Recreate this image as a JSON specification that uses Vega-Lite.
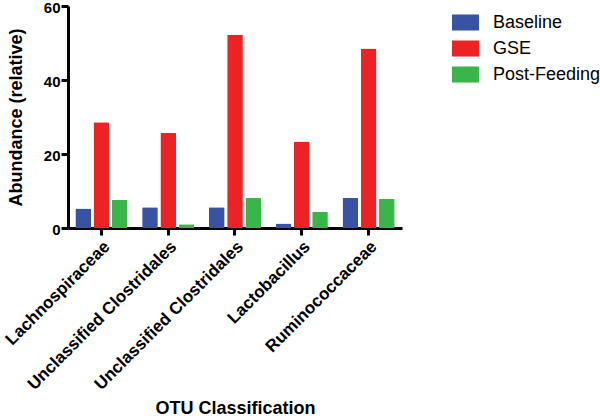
{
  "$schema": "https://vega.github.io/schema/vega-lite/v6.json",
  "width": 334,
  "height": 222,
  "autosize": "none",
  "padding": {"left": 68, "top": 6, "right": 198, "bottom": 191},
  "background": "white",
  "config": {
    "font": "Liberation Sans",
    "view": {"stroke": null},
    "axis": {"grid": false, "domainColor": "black", "domainWidth": 3, "tickColor": "black", "tickWidth": 3, "tickSize": 7, "labelColor": "black", "titleColor": "black", "labelFont": "Liberation Sans", "titleFont": "Liberation Sans", "labelFontWeight": "bold", "titleFontWeight": "bold"}
  },
  "data": {
    "values": [
      {"otu": "Lachnospiraceae", "group": "Baseline", "value": 5.3},
      {"otu": "Lachnospiraceae", "group": "GSE", "value": 28.6},
      {"otu": "Lachnospiraceae", "group": "Post-Feeding", "value": 7.6},
      {"otu": "Unclassified Clostridales", "group": "Baseline", "value": 5.6},
      {"otu": "Unclassified Clostridales", "group": "GSE", "value": 25.7},
      {"otu": "Unclassified Clostridales", "group": "Post-Feeding", "value": 1.0},
      {"otu": "Unclassified Clostridales ", "group": "Baseline", "value": 5.6},
      {"otu": "Unclassified Clostridales ", "group": "GSE", "value": 52.2},
      {"otu": "Unclassified Clostridales ", "group": "Post-Feeding", "value": 8.1},
      {"otu": "Lactobacillus", "group": "Baseline", "value": 1.2},
      {"otu": "Lactobacillus", "group": "GSE", "value": 23.4},
      {"otu": "Lactobacillus", "group": "Post-Feeding", "value": 4.3},
      {"otu": "Ruminococcaceae", "group": "Baseline", "value": 8.1},
      {"otu": "Ruminococcaceae", "group": "GSE", "value": 48.5},
      {"otu": "Ruminococcaceae", "group": "Post-Feeding", "value": 7.9}
    ]
  },
  "mark": {"type": "bar", "cornerRadius": 1},
  "encoding": {
    "x": {
      "field": "otu", "type": "nominal", "sort": null,
      "scale": {"paddingInner": 0.22, "paddingOuter": 0.11},
      "axis": {"title": "OTU Classification", "titleFontSize": 18, "titlePadding": 7, "labelAngle": -45, "labelFontSize": 17, "labelPadding": 3, "labelLimit": 0}
    },
    "xOffset": {"field": "group", "type": "nominal", "scale": {"paddingInner": 0.14}},
    "y": {
      "field": "value", "type": "quantitative",
      "scale": {"domain": [0, 60], "nice": false},
      "axis": {"title": "Abundance (relative)", "titleFontSize": 18, "labelFontSize": 15, "labelOffset": 1.5, "values": [0, 20, 40, 60], "titlePadding": 18, "labelPadding": 1}
    },
    "color": {
      "field": "group", "type": "nominal",
      "scale": {"domain": ["Baseline", "GSE", "Post-Feeding"], "range": ["#3953a4", "#ed2224", "#3ab54a"]},
      "legend": {
        "title": null, "orient": "none", "legendX": 384, "legendY": 3,
        "symbolType": "M-1,-0.593H1V0.593H-1Z", "symbolSize": 729, "symbolStrokeWidth": 0,
        "labelFontSize": 18, "labelColor": "black", "labelFont": "Liberation Sans",
        "rowPadding": 3, "labelOffset": 14
      }
    }
  }
}
